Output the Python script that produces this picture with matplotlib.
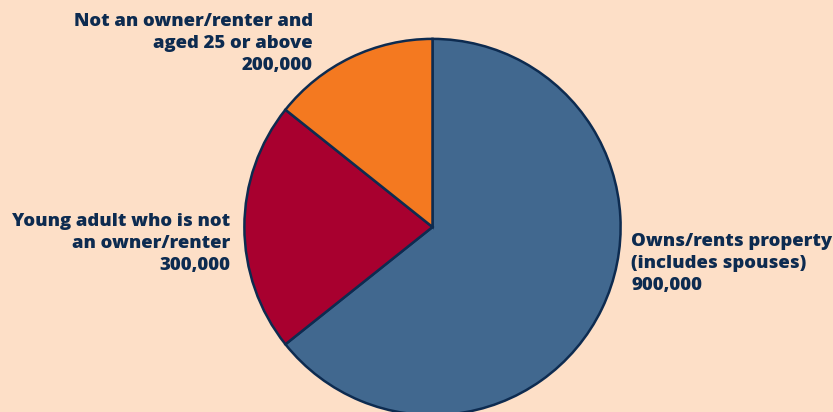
import matplotlib.pyplot as plt

# data
labels = ['Owns/rents property\n(includes spouses)\n900,000',
          'Young adult who is not\nan owner/renter\n300,000',
          'Not an owner/renter and\naged 25 or above\n200,000']
values = [900000, 300000, 200000]
colors = ['#41688f', '#a8002f', '#f47920']

bg = '#fddfc7'
navy = '#0d2b50'
W, H = 833, 412

fig = plt.figure(figsize=(W / 100, H / 100), dpi=100, facecolor=bg)
cx, cy, r = 432.5, 227, 190
ax = fig.add_axes([(cx - r) / W, (H - cy - r) / H, 2 * r / W, 2 * r / H])
ax.set_facecolor(bg)
ax.pie(values, colors=colors, startangle=90, counterclock=False, radius=1,
       wedgeprops=dict(edgecolor=navy, linewidth=1.8))
ax.set_xlim(-1.01, 1.01)
ax.set_ylim(-1.01, 1.01)
ax.axis('off')

font = dict(family=['Open Sans', 'DejaVu Sans'], fontweight='heavy',
            fontsize=13.3, color=navy, linespacing=1.38)
# label positions in pixels (x, top y)
fig.text(631 / W, 1 - 233 / H, labels[0], ha='left', va='top', **font)
fig.text(230 / W, 1 - 213 / H, labels[1], ha='right', va='top', **font)
fig.text(313 / W, 1 - 13 / H, labels[2], ha='right', va='top', **font)

fig.savefig('out.png', dpi=100, facecolor=bg)
